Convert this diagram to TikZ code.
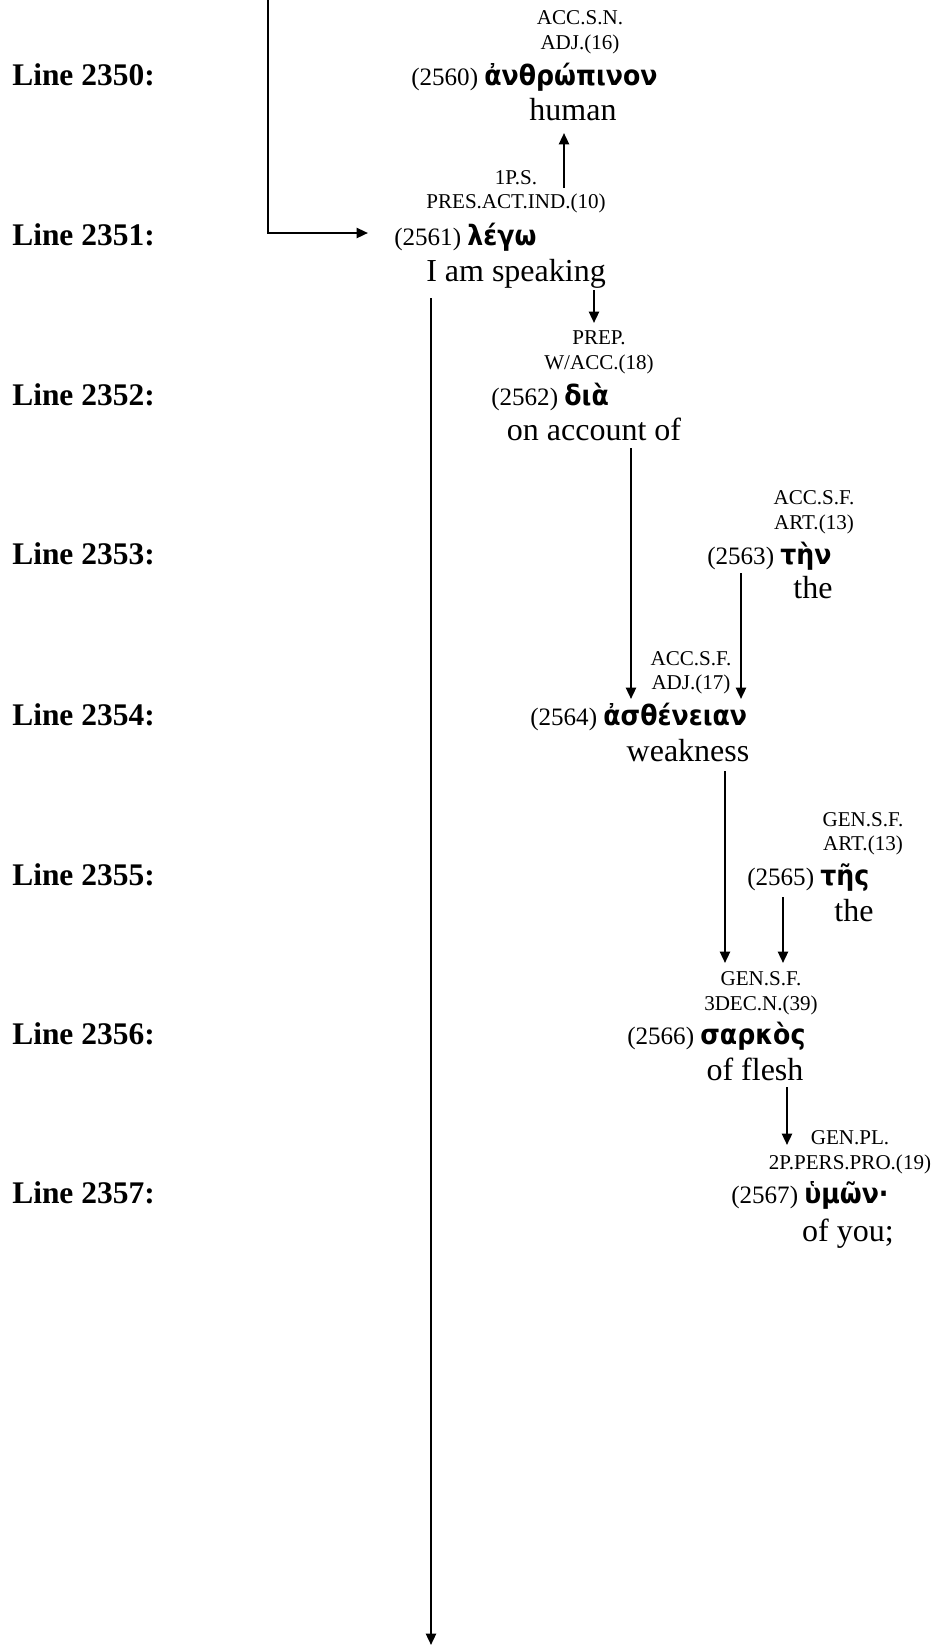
\documentclass[tikz,border=0pt]{standalone}
\usepackage{fontspec}
\setmainfont{Liberation Serif}
\newfontfamily\grkfont[Script=Greek,FakeStretch=0.9]{DejaVu Sans}
\usetikzlibrary{arrows.meta,calc}
\newcommand\gk[1]{{\grkfont\bfseries\fontsize{21}{24}\selectfont #1}}
\tikzset{
  linelab/.style={anchor=south west, inner sep=0pt, text depth=0pt, font=\fontsize{23.6}{28}\selectfont\bfseries},
  morph/.style={anchor=south, inner sep=0pt, text depth=0pt, font=\fontsize{15.8}{19}\selectfont},
  wordnode/.style={anchor=south west, inner sep=0pt, text depth=0pt, font=\fontsize{18.8}{22}\selectfont},
  gloss/.style={anchor=south, inner sep=0pt, text depth=0pt, font=\fontsize{24}{28}\selectfont},
  conn/.style={line width=1.7pt},
  arr/.style={conn, -{Triangle[length=8.5pt,width=7.5pt]}}
}
\begin{document}
\begin{tikzpicture}[x=0.75pt,y=-0.75pt]
\useasboundingbox (0,0) rectangle (934,1647);
% line labels
\node[linelab] (ln2350) at (12,86) {Line 2350:};
\node[linelab] (ln2351) at (12,246) {Line 2351:};
\node[linelab] (ln2352) at (12,406) {Line 2352:};
\node[linelab] (ln2353) at (12,565) {Line 2353:};
\node[linelab] (ln2354) at (12,726) {Line 2354:};
\node[linelab] (ln2355) at (12,886) {Line 2355:};
\node[linelab] (ln2356) at (12,1045) {Line 2356:};
\node[linelab] (ln2357) at (12,1204) {Line 2357:};
% morphology labels
\node[morph] (L2560a) at (580,25) {ACC.S.N.};
\node[morph] (L2560b) at (580,50) {ADJ.(16)};
\node[morph] (L2561a) at (516,185) {1P.S.};
\node[morph] (L2561b) at (516,209) {PRES.ACT.IND.(10)};
\node[morph] (L2562a) at (599,345) {PREP.};
\node[morph] (L2562b) at (599,370) {W/ACC.(18)};
\node[morph] (L2563a) at (814,505) {ACC.S.F.};
\node[morph] (L2563b) at (814,530) {ART.(13)};
\node[morph] (L2564a) at (691,666) {ACC.S.F.};
\node[morph] (L2564b) at (691,690) {ADJ.(17)};
\node[morph] (L2565a) at (863,827) {GEN.S.F.};
\node[morph] (L2565b) at (863,851) {ART.(13)};
\node[morph] (L2566a) at (761,986) {GEN.S.F.};
\node[morph] (L2566b) at (761,1011) {3DEC.N.(39)};
\node[morph] (L2567a) at (850,1145) {GEN.PL.};
\node[morph] (L2567b) at (850,1170) {2P.PERS.PRO.(19)};
% words
\node[wordnode] (m2560) at (411,86) {(2560) \gk{ἀνθρώπινον}};
\node[wordnode] (m2561) at (394,246) {(2561) \gk{λέγω}};
\node[wordnode] (m2562) at (491,406) {(2562) \gk{διὰ}};
\node[wordnode] (m2563) at (707,565) {(2563) \gk{τὴν}};
\node[wordnode] (m2564) at (530,726) {(2564) \gk{ἀσθένειαν}};
\node[wordnode] (m2565) at (747,886) {(2565) \gk{τῆς}};
\node[wordnode] (m2566) at (627,1045) {(2566) \gk{σαρκὸς}};
\node[wordnode] (m2567) at (731,1204) {(2567) \gk{ὑμῶν·}};
% glosses
\node[gloss] (g2560) at (573,121) {human};
\node[gloss] (g2561) at (516,282) {I am speaking};
\node[gloss] (g2562) at (594,441) {on account of};
\node[gloss] (g2563) at (813,599) {the};
\node[gloss] (g2564) at (688,762) {weakness};
\node[gloss] (g2565) at (854,922) {the};
\node[gloss] (g2566) at (755,1081) {of flesh};
\node[gloss] (g2567) at (848,1242) {of you;};
% columns for connectors
\coordinate (topL) at (268,0);
\coordinate (botL) at (431,1645);
\coordinate (cA) at (564,0);
\coordinate (cB) at (594,0);
\coordinate (cC) at (631,0);
\coordinate (cD) at (741,0);
\coordinate (cE) at (725,0);
\coordinate (cF) at (783,0);
\coordinate (cG) at (787,0);
\coordinate (cH) at (431,0);
% connectors
\draw[arr] (topL) |- ($(m2561.south west)+(-26,-13)$);
\draw[arr] ($(L2561b.south -| cA)+(0,-21)$) -- ($(g2560.south -| cA)+(0,12)$);
\draw[arr] ($(g2561.south -| cB)+(0,8)$) -- ($(L2562b.south -| cB)+(0,-47)$);
\draw[arr] ($(g2562.south -| cC)+(0,7)$) -- ($(m2564.south -| cC)+(0,-27)$);
\draw[arr] ($(m2563.south -| cD)+(0,8)$) -- ($(m2564.south -| cD)+(0,-27)$);
\draw[arr] ($(g2564.south -| cE)+(0,9)$) -- ($(L2566b.south -| cE)+(0,-48)$);
\draw[arr] ($(m2565.south -| cF)+(0,11)$) -- ($(L2566b.south -| cF)+(0,-48)$);
\draw[arr] ($(g2566.south -| cG)+(0,6)$) -- ($(L2567b.south -| cG)+(0,-25)$);
\draw[arr] ($(g2561.south -| cH)+(0,16)$) -- (botL);
\end{tikzpicture}
\end{document}
